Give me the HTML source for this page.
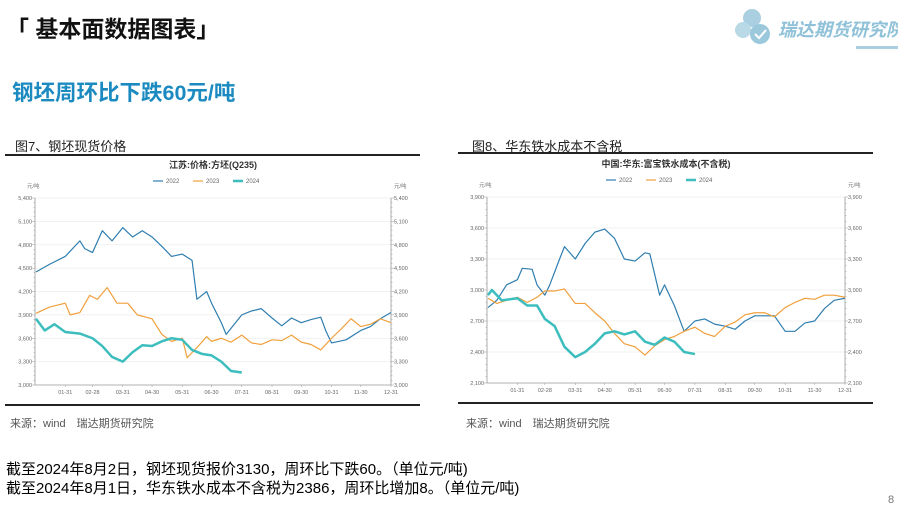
<!DOCTYPE html>
<html><head><meta charset="utf-8"><style>
body{margin:0;width:900px;height:512px;overflow:hidden;background:#fff;font-family:"Liberation Sans","Noto Sans CJK SC",sans-serif;position:relative}
.t{position:absolute;white-space:nowrap}
</style></head><body>
<div class="t" style="left:6px;top:10px;font-size:23px;font-weight:bold;color:#111">「 基本面数据图表」</div>
<div class="t" style="left:728px;top:4px;width:170px;height:46px">
 <svg width="170" height="46"><circle cx="24" cy="14" r="9" fill="#a9cfe0"/><circle cx="15" cy="26" r="8" fill="#b9d9e6"/><circle cx="32" cy="30" r="10" fill="#9cc8dc"/><path d="M27 30l4 4 7-8" stroke="#fff" stroke-width="2" fill="none"/><text x="50" y="32" font-size="18" font-weight="bold" font-style="italic" fill="#8fc1d8" font-family="Liberation Sans,Noto Sans CJK SC,sans-serif">瑞达期货研究院</text><rect x="128" y="42" width="42" height="3" fill="#a9cfe0"/></svg>
</div>
<div class="t" style="left:12px;top:76px;font-size:21.5px;font-weight:bold;color:#1b8ac0">钢坯周环比下跌60元/吨</div>
<div class="t" style="left:15px;top:136px;font-size:13px;color:#222">图7、钢坯现货价格</div>
<div class="t" style="left:472px;top:136px;font-size:13px;color:#222">图8、华东铁水成本不含税</div>
<div class="t" style="left:10px;top:415px;font-size:11px;color:#555">来源：wind　瑞达期货研究院</div>
<div class="t" style="left:466px;top:415px;font-size:11px;color:#555">来源：wind　瑞达期货研究院</div>
<div class="t" style="left:6px;top:458px;font-size:15px;color:#000">截至2024年8月2日，钢坯现货报价3130，周环比下跌60。（单位元/吨)</div>
<div class="t" style="left:6px;top:477px;font-size:15px;color:#000">截至2024年8月1日，华东铁水成本不含税为2386，周环比增加8。（单位元/吨)</div>
<div class="t" style="left:888px;top:494px;font-size:11px;color:#777">8</div>
<svg id="ch" width="900" height="512" style="position:absolute;left:0;top:0"></svg>
<script>
const months=["01-31","02-28","03-31","04-30","05-31","06-30","07-31","08-31","09-30","10-31","11-30","12-31"];
const monthDays=[31,59,90,120,151,181,212,243,273,304,334,365];
const seriesNames=["2022","2023","2024"];
const c1Ticks=[3000,3300,3600,3900,4200,4500,4800,5100,5400];
const c1d22=[1,15,31,46,51,59,69,79,90,100,110,120,130,140,151,161,166,176,181,191,196,212,222,232,243,253,263,273,283,293,298,304,319,334,344,354,365];
const c1v22=[4450,4550,4650,4850,4750,4700,4980,4850,5020,4900,4980,4900,4780,4650,4680,4600,4100,4200,4050,3800,3650,3900,3950,3980,3860,3760,3860,3800,3840,3870,3700,3540,3580,3700,3750,3850,3930];
const c1d23=[1,15,31,36,46,56,64,74,84,95,105,120,130,140,151,156,166,176,181,191,201,212,222,232,243,253,263,273,283,293,304,314,324,334,344,354,365];
const c1v23=[3920,4000,4050,3900,3930,4150,4100,4250,4050,4050,3900,3850,3650,3560,3600,3350,3480,3620,3560,3600,3550,3640,3540,3520,3580,3570,3640,3550,3520,3450,3600,3720,3850,3750,3780,3850,3800];
const c1d24=[1,10,20,31,46,59,69,79,90,100,110,120,130,140,151,161,171,181,191,201,212];
const c1v24=[3850,3700,3780,3680,3660,3600,3500,3360,3300,3420,3510,3500,3560,3600,3580,3450,3400,3380,3300,3180,3160];
const c2Ticks=[2100,2400,2700,3000,3300,3600,3900];
const c2d22=[1,10,20,31,36,46,51,59,64,74,79,90,100,110,120,130,140,151,161,166,176,181,191,201,212,222,232,243,253,263,273,283,293,304,314,324,334,344,354,365];
const c2v22=[2830,2900,3050,3100,3210,3200,3050,2950,3050,3300,3420,3300,3450,3560,3590,3500,3300,3280,3360,3350,2950,3050,2850,2600,2700,2720,2670,2650,2620,2700,2750,2750,2750,2600,2600,2680,2700,2820,2900,2920];
const c2d23=[1,10,20,31,41,51,59,69,79,90,100,110,120,130,140,151,161,171,181,191,201,212,222,232,243,253,263,273,283,293,304,314,324,334,344,354,365];
const c2v23=[2920,2870,2900,2930,2880,2930,2990,2990,3010,2870,2870,2780,2700,2580,2480,2450,2370,2460,2520,2550,2600,2640,2580,2550,2650,2690,2760,2780,2780,2740,2830,2880,2920,2910,2950,2950,2930];
const c2d24=[1,5,15,31,41,51,59,69,79,90,100,110,120,130,140,151,161,171,181,191,201,212];
const c2v24=[2950,3000,2900,2920,2850,2850,2720,2650,2450,2350,2400,2480,2580,2600,2570,2600,2500,2470,2540,2500,2400,2380];
const colors=["#2f7eb0","#f0a03c","#3dbdbd"],widths=[1.2,1.2,2.5];
const svg=document.getElementById('ch'),NS="http://www.w3.org/2000/svg";
function el(t,a,p){const e=document.createElementNS(NS,t);for(const k in a)e.setAttribute(k,a[k]);(p||svg).appendChild(e);return e;}
function chart(o){
 const g=el('g',{});
 
 
 el('line',{x1:o.bx0,x2:o.bx1,y1:o.by0,y2:o.by0,stroke:'#222','stroke-width':2},g);
 el('line',{x1:o.bx0,x2:o.bx1,y1:o.by1,y2:o.by1,stroke:'#222','stroke-width':2},g);
 const min=o.ticks[0],max=o.ticks[o.ticks.length-1];
 const X=d=>o.x0+(o.x1-o.x0)*d/365, Y=v=>o.y1-(o.y1-o.y0)*(v-min)/(max-min);
 const tt=el('text',{x:(o.x0+o.x1)/2,y:o.y0-30,'text-anchor':'middle','font-size':9,'font-weight':'bold',fill:'#333'},g);tt.textContent=o.title;
 
 
 seriesNames.forEach((n,i)=>{const lx=(o.x0+o.x1)/2-60+i*40;const lg=el('g',{},g);
  
  
  el('line',{x1:lx,x2:lx+10,y1:o.y0-17,y2:o.y0-17,stroke:colors[i],'stroke-width':widths[i]},lg);
  const t=el('text',{x:lx+13,y:o.y0-15,'font-size':6,fill:'#666'},lg);t.textContent=n;});
 ['l','r'].forEach(s=>{const t=el('text',{x:s=='l'?o.x0-8:o.x1+3,y:o.y0-10,'font-size':5.5,fill:'#777'},g);t.textContent='元/吨';});
 o.ticks.forEach(v=>{const y=Y(v);
  if(v>min)el('line',{x1:o.x0,x2:o.x1,y1:y,y2:y,stroke:'#eee','stroke-width':0.8},g);
  const a=el('text',{x:o.x0-3,y:y+2,'text-anchor':'end','font-size':5.5,fill:'#666'},g);a.textContent=v.toLocaleString('en-US');
  const b=el('text',{x:o.x1+3,y:y+2,'font-size':5.5,fill:'#666'},g);b.textContent=v.toLocaleString('en-US');});
 for(let i=0;i<=(o.ticks.length-1)*5;i++){const y=o.y1-(o.y1-o.y0)*i/((o.ticks.length-1)*5);const w=i%5?1.5:3;
  el('line',{x1:o.x0-w,x2:o.x0,y1:y,y2:y,stroke:'#999','stroke-width':0.5},g);el('line',{x1:o.x1,x2:o.x1+w,y1:y,y2:y,stroke:'#999','stroke-width':0.5},g);}
 el('line',{x1:o.x0,x2:o.x0,y1:o.y0,y2:o.y1,stroke:'#999','stroke-width':0.8},g);
 el('line',{x1:o.x1,x2:o.x1,y1:o.y0,y2:o.y1,stroke:'#999','stroke-width':0.8},g);
 el('line',{x1:o.x0,x2:o.x1,y1:o.y1,y2:o.y1,stroke:'#999','stroke-width':0.8},g);
 months.forEach((m,i)=>{const x=X(monthDays[i]);el('line',{x1:x,x2:x,y1:o.y1,y2:o.y1+2,stroke:'#999','stroke-width':0.5},g);
  const t=el('text',{x:x,y:o.y1+9,'text-anchor':'middle','font-size':5.5,fill:'#666'},g);t.textContent=m;});
 o.series.forEach((s,i)=>{const p=el('polyline',{points:s[0].map((d,j)=>X(d)+','+Y(s[1][j])).join(' '),fill:'none',stroke:colors[i],'stroke-width':widths[i],'stroke-linejoin':'round'},g);
  
  });
}
chart({name:'billet-price-chart',title:'江苏:价格:方坯(Q235)',bx0:5,bx1:420,by0:155,by1:405,x0:35,x1:391,y0:198,y1:385,ticks:c1Ticks,series:[[c1d22,c1v22],[c1d23,c1v23],[c1d24,c1v24]]});
chart({name:'hot-metal-cost-chart',title:'中国:华东:富宝铁水成本(不含税)',bx0:458,bx1:873,by0:153,by1:403,x0:487,x1:845,y0:197,y1:383,ticks:c2Ticks,series:[[c2d22,c2v22],[c2d23,c2v23],[c2d24,c2v24]]});
</script>
</body></html>
